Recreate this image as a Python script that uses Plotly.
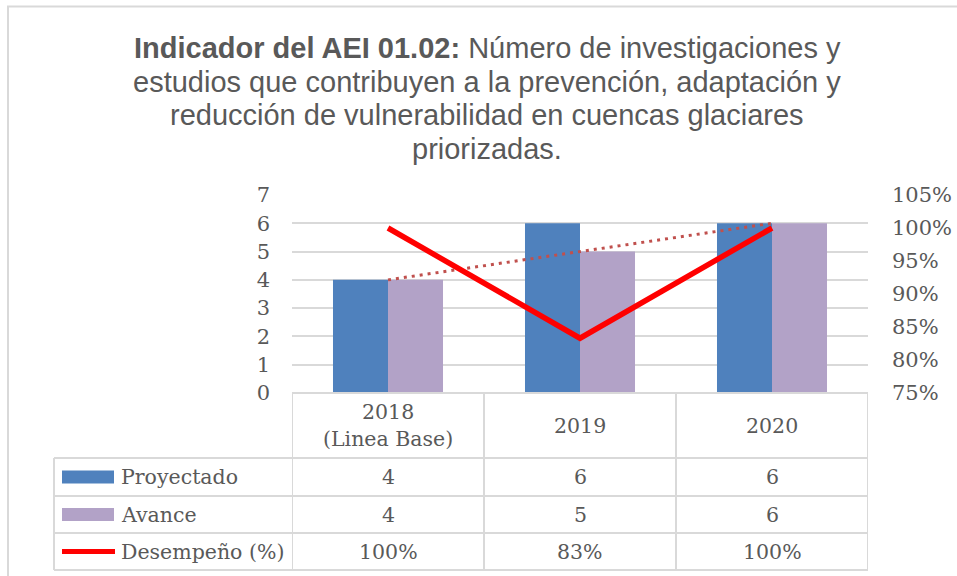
import plotly.graph_objects as go
import numpy as np

categorias = ["2018", "2019", "2020"]
etiquetas_cat = ["2018<br>(Linea Base)", "2019", "2020"]
proyectado = [4, 6, 6]
avance = [4, 5, 6]
desempeno = [1.0, 0.833, 1.0]
series_nombres = ["Proyectado", "Avance", "Desempeño (%)"]
titulo_lineas = [
    "<b>Indicador del AEI 01.02:</b> Número de investigaciones y",
    "estudios que contribuyen a la prevención, adaptación y",
    "reducción de vulnerabilidad en cuencas glaciares",
    "priorizadas.",
]

C_PROY = "#4F81BD"
C_AV = "#B2A2C7"
C_DES = "#FF0000"
C_TREND = "#C0504D"
GRID = "#D9D9D9"
TXT = "#595959"
SERIF = "DejaVu Serif"

W, H = 957, 576
L, R, T, B = 292, 868, 195, 393


def px_x(p):
    return (p - L) / (R - L)


def px_y(p):
    return (B - p) / (B - T)


# linear trend of Avance (Excel-style trendline)
xi = np.arange(len(avance))
coef = np.polyfit(xi, avance, 1)
tendencia = list(np.polyval(coef, xi))

fig = go.Figure()
fig.add_trace(go.Bar(x=categorias, y=proyectado, name=series_nombres[0],
                     marker=dict(color=C_PROY, line=dict(width=0))))
fig.add_trace(go.Bar(x=categorias, y=avance, name=series_nombres[1],
                     marker=dict(color=C_AV, line=dict(width=0))))
fig.add_trace(go.Scatter(x=categorias, y=tendencia, mode="lines",
                         line=dict(color=C_TREND, width=3, dash="3px,5px"),
                         showlegend=False, hoverinfo="skip"))
fig.add_trace(go.Scatter(x=categorias, y=desempeno, mode="lines", yaxis="y2",
                         name=series_nombres[2],
                         line=dict(color=C_DES, width=5.5)))

shapes = []
# outer chart border
shapes.append(dict(type="rect", xref="paper", yref="paper",
                   x0=px_x(8), x1=px_x(1100), y0=px_y(700), y1=px_y(6.5),
                   line=dict(color=GRID, width=2), fillcolor="rgba(0,0,0,0)", layer="below"))

# table grid
rows = [393, 458, 496, 533, 570]
left_col = 54
shapes.append(dict(type="line", xref="paper", yref="paper",
                   x0=px_x(L), x1=px_x(R), y0=px_y(rows[0]), y1=px_y(rows[0]),
                   line=dict(color=GRID, width=2)))
for r in rows[1:]:
    shapes.append(dict(type="line", xref="paper", yref="paper",
                       x0=px_x(left_col), x1=px_x(R), y0=px_y(r), y1=px_y(r),
                       line=dict(color=GRID, width=2)))
n = len(categorias)
for k in range(n + 1):
    xb = k - 0.5
    shapes.append(dict(type="line", xref="x", yref="paper",
                       x0=xb, x1=xb, y0=px_y(rows[0]), y1=px_y(rows[-1]),
                       line=dict(color=GRID, width=2)))
shapes.append(dict(type="line", xref="paper", yref="paper",
                   x0=px_x(left_col), x1=px_x(left_col), y0=px_y(rows[1]), y1=px_y(rows[-1]),
                   line=dict(color=GRID, width=2)))

# legend keys
row_centers = [(rows[i] + rows[i + 1]) / 2 for i in range(1, 4)]
for col, rc in zip([C_PROY, C_AV], row_centers[:2]):
    shapes.append(dict(type="rect", xref="paper", yref="paper",
                       x0=px_x(62), x1=px_x(114), y0=px_y(rc + 6.5), y1=px_y(rc - 6.5),
                       fillcolor=col, line=dict(width=0)))
shapes.append(dict(type="line", xref="paper", yref="paper",
                   x0=px_x(62), x1=px_x(115), y0=px_y(row_centers[2]), y1=px_y(row_centers[2]),
                   line=dict(color=C_DES, width=5)))

annotations = []
font_tbl = dict(family=SERIF, size=20.5, color=TXT)
hc = (rows[0] + rows[1]) / 2
for i, lab in enumerate(etiquetas_cat):
    annotations.append(dict(x=i, y=px_y(hc), xref="x", yref="paper", text=lab,
                            showarrow=False, font=font_tbl, xanchor="center", yanchor="middle"))
valores_txt = [
    [str(v) for v in proyectado],
    [str(v) for v in avance],
    ["{:.0%}".format(v) for v in desempeno],
]
for name, vals, rc in zip(series_nombres, valores_txt, row_centers):
    annotations.append(dict(x=px_x(119), y=px_y(rc), xref="paper", yref="paper", text=name,
                            showarrow=False, font=font_tbl, xanchor="left", yanchor="middle"))
    for i, v in enumerate(vals):
        annotations.append(dict(x=i, y=px_y(rc), xref="x", yref="paper", text=v,
                                showarrow=False, font=font_tbl, xanchor="center", yanchor="middle"))

# title lines
for k, line in enumerate(titulo_lineas):
    yc = 48 + k * 33.7
    annotations.append(dict(x=px_x(487), y=px_y(yc), xref="paper", yref="paper", text=line,
                            showarrow=False, xanchor="center", yanchor="middle",
                            font=dict(family="Liberation Sans", size=29, color=TXT)))

fig.update_layout(
    width=W, height=H,
    margin=dict(l=L, r=W - R, t=T, b=H - B, autoexpand=False),
    paper_bgcolor="white", plot_bgcolor="white",
    barmode="group", bargap=0.427, bargroupgap=0,
    showlegend=False,
    xaxis=dict(type="category", range=[-0.5, n - 0.5], showticklabels=False, automargin=False,
               showgrid=False, zeroline=False, showline=False, ticks=""),
    yaxis=dict(range=[0, 7], dtick=1, showgrid=True, gridcolor=GRID, gridwidth=2,
               zeroline=False, showline=False, ticks="", automargin=False,
               tickfont=dict(family=SERIF, size=21, color=TXT), ticklabelstandoff=21),
    yaxis2=dict(range=[0.75, 1.05], dtick=0.05, tickformat=".0%", overlaying="y", side="right",
                showgrid=False, zeroline=False, showline=False, ticks="", automargin=False,
                tickfont=dict(family=SERIF, size=21, color=TXT), ticklabelstandoff=23),
    shapes=shapes,
    annotations=annotations,
)

fig.write_html("out.html", config={"displayModeBar": False},
               post_script="document.body.style.margin='0';document.body.style.overflow='hidden';")
